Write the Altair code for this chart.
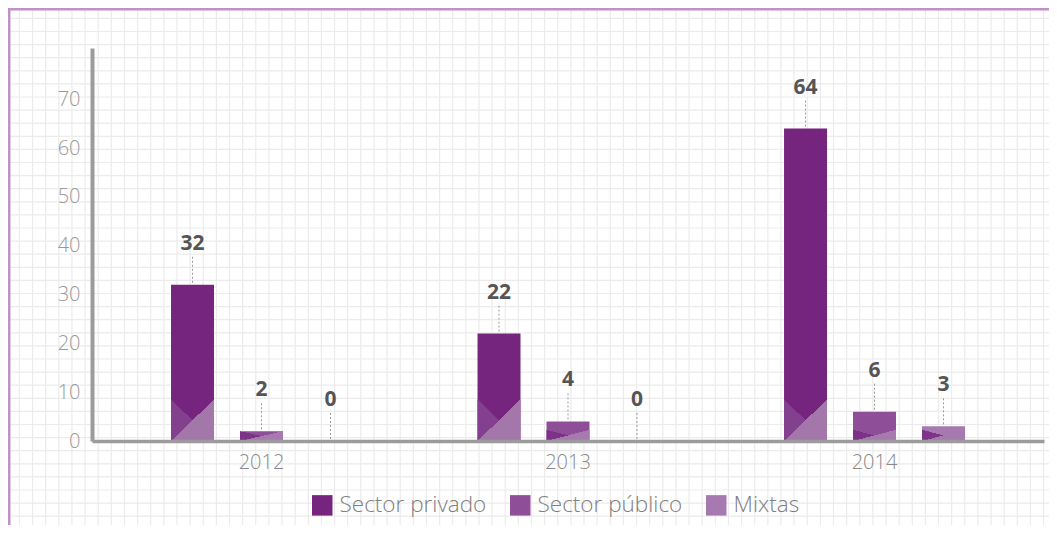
import altair as alt
import pandas as pd

# ---- data ----
years = ["2012", "2013", "2014"]
series = ["Sector privado", "Sector público", "Mixtas"]
privado = [32, 22, 64]
publico = [2, 4, 6]
mixtas = [0, 0, 3]
y_ticks = [0, 10, 20, 30, 40, 50, 60, 70]

# ---- styles ----
base_colors = ["#76257f", "#8e4f98", "#a67ab0"]
left_tri = ["#83408e", "#7c3287", "#7d3489"]
right_tri = ["#a477ab", "#a77aaf", "#a57aae"]
deco_cap = [8.5, 2.3, 2.3]
FONT = "Open Sans"

rows = []
for i, yr in enumerate(years):
    for s, vals in zip(series, [privado, publico, mixtas]):
        rows.append({"year": yr, "series": s, "value": vals[i]})
df = pd.DataFrame(rows)

W, H = 952, 393

base = alt.Chart().encode(
    x=alt.X("year:N", title=None,
            scale=alt.Scale(domain=years, paddingInner=0, paddingOuter=0.053),
            axis=alt.Axis(orient="bottom", labelAngle=0, labelFontSize=20, labelFont=FONT,
                          labelFontWeight=300,
                          labelColor="#8a8a8a", labelPadding=11, ticks=False, grid=False,
                          domainColor="#9b9b9b", domainWidth=3.5, zindex=1)),
    xOffset=alt.XOffset("series:N",
                        scale=alt.Scale(domain=series, paddingInner=0.377, paddingOuter=0.91)),
    y=alt.Y("value:Q", title=None,
            scale=alt.Scale(domain=[0, 80.5], nice=False),
            axis=alt.Axis(orient="left", values=y_ticks, labelFontSize=20, labelFont=FONT,
                          labelFontWeight=300,
                          labelColor="#999999", labelPadding=12, ticks=False, grid=False,
                          domainColor="#9b9b9b", domainWidth=4, zindex=1)),
)

bars = base.mark_bar().encode(
    color=alt.Color("series:N",
                    scale=alt.Scale(domain=series, range=base_colors),
                    legend=alt.Legend(title=None, orient="none", legendX=219, legendY=446,
                                      direction="horizontal", symbolType="square",
                                      symbolSize=420, symbolStrokeWidth=0,
                                      labelFontSize=22.5, labelFont=FONT, labelFontWeight=300,
                                      labelColor="#808080",
                                      labelOffset=6, columnPadding=22, padding=0))
)

TRANSP = "rgba(0,0,0,0)"


def grad(color, x1, y1, x2, y2):
    return alt.LinearGradient(
        gradient="linear", x1=x1, y1=y1, x2=x2, y2=y2,
        stops=[alt.GradientStop(color=TRANSP, offset=0),
               alt.GradientStop(color=TRANSP, offset=0.5),
               alt.GradientStop(color=color, offset=0.5),
               alt.GradientStop(color=color, offset=1)])


deco_layers = []
for j, s in enumerate(series):
    sub = base.transform_filter(
        (alt.datum.series == s) & (alt.datum.value > 0)
    ).transform_calculate(value=f"min(datum.value, {deco_cap[j]})")
    deco_layers.append(sub.mark_bar(fill=grad(left_tri[j], 1, 0, 0, 1)))
    deco_layers.append(sub.mark_bar(fill=grad(right_tri[j], 0, 0, 1, 1)))

leaders = base.mark_rule(strokeDash=[2, 2], color="#9a9a9a", strokeWidth=1,
                         yOffset=-28, y2Offset=-1).encode(y2=alt.Y2("value"))

labels = base.mark_text(dy=-41, fontSize=21, fontWeight="bold", font=FONT,
                        color="#555555", baseline="middle").encode(text="value:Q")

data_layer = alt.layer(bars, *deco_layers, leaders, labels, data=df)

# ---- graph-paper background and frame (decoration) ----
vgrid = alt.Chart(alt.sequence(0, 81, as_="k")).mark_rule(
    color="#ebebeb", strokeWidth=1.2).encode(
    x=alt.X("k:Q", axis=None,
            scale=alt.Scale(domain=[0, 80], range=[-85.7, 964.7], nice=False, zero=False)),
    y=alt.value(-40), y2=alt.value(480))

hgrid = alt.Chart(alt.sequence(0, 46, as_="k")).mark_rule(
    color="#ebebeb", strokeWidth=1.2).encode(
    y=alt.Y("k:Q", axis=None,
            scale=alt.Scale(domain=[0, 45], range=[-42.7, 546.8], nice=False, zero=False)),
    x=alt.value(-84), x2=alt.value(960))

frame_left = alt.Chart(alt.sequence(0, 1, as_="f")).mark_rule(
    color="#c190c7", strokeWidth=2.5).encode(
    x=alt.value(-82.8), y=alt.value(-40), y2=alt.value(480))
frame_top = alt.Chart(alt.sequence(0, 1, as_="f")).mark_rule(
    color="#c190c7", strokeWidth=2.5).encode(
    y=alt.value(-38.8), x=alt.value(-84), x2=alt.value(960))

chart = alt.layer(vgrid, hgrid, frame_left, frame_top, data_layer).resolve_scale(
    x="independent", y="independent"
).properties(
    width=W, height=H,
    autosize=alt.AutoSizeParams(type="none"),
    padding={"left": 84, "top": 40, "right": 5, "bottom": 84},
    background="white",
).configure_view(stroke=None)

chart.save("out.html", embed_options={"renderer": "svg", "actions": False})
